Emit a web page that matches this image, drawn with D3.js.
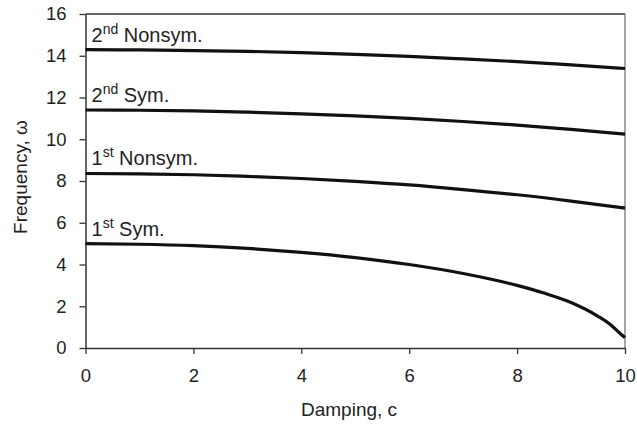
<!DOCTYPE html>
<html lang="en">
<head>
<meta charset="UTF-8">
<title>Frequency vs damping</title>
<script src="https://d3js.org/d3.v7.min.js"></script>
<style>
    body { margin: 0; background: #fff; }
    svg text { font-family: "Liberation Sans", Arial, sans-serif; fill: #222; }
</style>
</head>
<body>
<svg width="637" height="428"></svg>
<script>
    // data
    const dampingC      = [0, 1, 2, 3, 4, 5, 6, 7, 8, 9, 10];
    const nonsym2nd     = [14.29, 14.28, 14.25, 14.21, 14.15, 14.07, 13.97, 13.85, 13.72, 13.56, 13.39];
    const sym2nd        = [11.40, 11.39, 11.36, 11.30, 11.22, 11.12, 11.00, 10.85, 10.68, 10.47, 10.25];
    const nonsym1st     = [8.36, 8.34, 8.30, 8.22, 8.12, 7.98, 7.81, 7.59, 7.34, 7.04, 6.70];
    const sym1stC       = [0, 1, 2, 3, 4, 5, 6, 7, 8, 8.5, 9, 9.5, 9.75, 9.9, 10];
    const sym1st        = [5.0, 4.97, 4.90, 4.77, 4.58, 4.33, 4.0, 3.57, 3.0, 2.63, 2.18, 1.52, 1.08, 0.72, 0.5];
    const xTicks = [0, 2, 4, 6, 8, 10];
    const yTicks = [0, 2, 4, 6, 8, 10, 12, 14, 16];
    const curveLabels = [
        {num: "2", sup: "nd", name: "Nonsym.", at: 14.29},
        {num: "2", sup: "nd", name: "Sym.",    at: 11.40},
        {num: "1", sup: "st", name: "Nonsym.", at: 8.36},
        {num: "1", sup: "st", name: "Sym.",    at: 5.0}
    ];

    const svg = d3.select("svg");
    const plotL = 85.5, plotR = 625, plotT = 14, plotB = 348;

    const x = d3.scaleLinear().domain([0, 10]).range([plotL, plotR]);
    const y = d3.scaleLinear().domain([0, 16]).range([plotB, plotT]);

    // plot frame (top + right)
    svg.append("line")
        .attr("x1", plotL).attr("y1", plotT).attr("x2", plotR).attr("y2", plotT)
        .attr("stroke", "#333").attr("stroke-width", 1.3);
    svg.append("line")
        .attr("x1", plotR).attr("y1", plotT).attr("x2", plotR).attr("y2", plotB)
        .attr("stroke", "#777").attr("stroke-width", 1.3);

    // axes
    const xAxis = svg.append("g")
        .attr("transform", `translate(0,${plotB})`)
        .call(d3.axisBottom(x).tickValues(xTicks).tickSize(6).tickPadding(15).tickSizeOuter(0));
    const yAxis = svg.append("g")
        .attr("transform", `translate(${plotL},0)`)
        .call(d3.axisLeft(y).tickValues(yTicks).tickSize(6).tickPadding(13).tickSizeOuter(0));

    [xAxis, yAxis].forEach(g => {
        g.select(".domain").attr("stroke", "#333").attr("stroke-width", 1.5);
        g.selectAll(".tick line").attr("stroke", "#333").attr("stroke-width", 1.3);
        g.selectAll(".tick text")
            .attr("fill", "#222")
            .style("font-family", "'Liberation Sans', Arial, sans-serif")
            .style("font-size", "18.5px");
    });

    // axis titles
    svg.append("text")
        .attr("x", 301).attr("y", 416)
        .style("font-size", "19px")
        .text("Damping, c");
    svg.append("text")
        .attr("transform", "translate(27,177) rotate(-90)")
        .attr("text-anchor", "middle")
        .style("font-size", "19px")
        .text("Frequency, \u03c9");

    // curves
    const line = d3.line()
        .x(d => x(d[0]))
        .y(d => y(d[1]))
        .curve(d3.curveMonotoneX);

    const series = [
        d3.zip(dampingC, nonsym2nd),
        d3.zip(dampingC, sym2nd),
        d3.zip(dampingC, nonsym1st),
        d3.zip(sym1stC, sym1st)
    ];

    series.forEach(s => {
        svg.append("path")
            .datum(s)
            .attr("fill", "none")
            .attr("stroke", "#111")
            .attr("stroke-width", 3.2)
            .attr("d", line);
    });

    // curve labels
    curveLabels.forEach(l => {
        const t = svg.append("text")
            .attr("x", x(0) + 6)
            .attr("y", y(l.at) - 8)
            .style("font-size", "20px");
        t.append("tspan").text(l.num);
        t.append("tspan").attr("dy", -8).style("font-size", "14px").text(l.sup);
        t.append("tspan").attr("dy", 8).text(" " + l.name);
    });
</script>
</body>
</html>
